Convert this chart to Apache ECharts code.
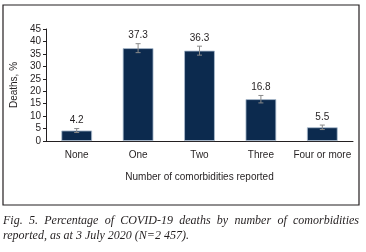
<!DOCTYPE html>
<html>
<head>
<meta charset="utf-8">
<script src="https://cdn.jsdelivr.net/npm/echarts@6/dist/echarts.min.js"></script>
<style>
  html, body { margin: 0; padding: 0; background: #fff; }
  #chart { width: 366px; height: 252px; }
</style>
</head>
<body>
<div id="chart"></div>
<script>
  // values
  const categories = ['None', 'One', 'Two', 'Three', 'Four or more'];
  const deaths = [4.2, 37.3, 36.3, 16.8, 5.5];
  const errLow = [3.4, 35.5, 34.5, 15.3, 4.6];
  const errHigh = [5.0, 39.1, 38.1, 18.3, 6.4];
  const yTicks = [0, 5, 10, 15, 20, 25, 30, 35, 40, 45];
  const captionLine1 = 'Fig. 5. Percentage of COVID-19 deaths by number of comorbidities';
  const captionLine2 = 'reported, as at 3 July 2020 (N=2 457).';

  const textColor = '#231f20';
  const font = 'Liberation Sans';
  const captionFont = 'italic 12px "Liberation Serif"';

  const chart = echarts.init(document.getElementById('chart'), null, {renderer: 'canvas'});

  function renderError(params, api) {
    const lo = api.coord([api.value(0), api.value(1)]);
    const hi = api.coord([api.value(0), api.value(2)]);
    const half = 2.5;
    const style = {stroke: '#8a8a8a', lineWidth: 1};
    return {
      type: 'group',
      children: [
        {type: 'line', shape: {x1: lo[0], y1: lo[1], x2: lo[0], y2: hi[1]}, style: style},
        {type: 'line', shape: {x1: lo[0] - half, y1: lo[1], x2: lo[0] + half, y2: lo[1]}, style: style},
        {type: 'line', shape: {x1: lo[0] - half, y1: hi[1], x2: lo[0] + half, y2: hi[1]}, style: style},
        {
          type: 'text',
          x: lo[0],
          y: hi[1] - 3,
          style: {
            text: String(api.value(3)),
            fill: textColor,
            font: '10px ' + font,
            align: 'center',
            verticalAlign: 'bottom'
          }
        }
      ]
    };
  }

  // justified first caption line, like the printed figure
  function justifiedLine(text, left, width, top) {
    const ctx = document.createElement('canvas').getContext('2d');
    ctx.font = captionFont;
    const words = text.split(' ');
    const widths = words.map(w => ctx.measureText(w).width);
    const total = widths.reduce((s, w) => s + w, 0);
    const gap = (width - total) / (words.length - 1);
    let x = left;
    return words.map((w, i) => {
      const el = {
        type: 'text',
        x: x,
        y: top,
        style: {text: w, font: captionFont, fill: textColor, verticalAlign: 'middle'}
      };
      x += widths[i] + gap;
      return el;
    });
  }

  const option = {
    animation: false,
    grid: {left: 46, right: 13, top: 29, bottom: 111},
    xAxis: {
      type: 'category',
      data: categories,
      name: 'Number of comorbidities reported',
      nameLocation: 'middle',
      nameGap: 31,
      nameTextStyle: {color: textColor, fontFamily: font, fontSize: 10},
      axisLine: {lineStyle: {color: textColor, width: 1}},
      axisTick: {show: false},
      axisLabel: {color: textColor, fontFamily: font, fontSize: 10, margin: 9, interval: 0}
    },
    yAxis: {
      type: 'value',
      min: 0,
      max: yTicks[yTicks.length - 1],
      interval: 5,
      name: 'Deaths, %',
      nameLocation: 'middle',
      nameGap: 25,
      nameTextStyle: {color: textColor, fontFamily: font, fontSize: 10},
      splitLine: {show: false},
      axisLine: {show: true, lineStyle: {color: textColor, width: 1}},
      axisTick: {show: true, length: 3, lineStyle: {color: textColor}},
      axisLabel: {color: textColor, fontFamily: font, fontSize: 10, margin: 5}
    },
    series: [
      {
        type: 'bar',
        data: deaths,
        barWidth: '50%',
        itemStyle: {color: '#0c2a4e', borderColor: '#aebfd1', borderWidth: 0.8}
      },
      {
        type: 'custom',
        renderItem: renderError,
        data: categories.map((c, i) => [i, errLow[i], errHigh[i], deaths[i]]),
        encode: {x: 0, y: [1, 2]},
        z: 3
      }
    ],
    graphic: [
      {
        type: 'rect',
        shape: {x: 3, y: 5, width: 356, height: 200},
        style: {fill: 'none', stroke: textColor, lineWidth: 1.2},
        silent: true
      },
      ...justifiedLine(captionLine1, 3, 356, 221),
      {
        type: 'text',
        x: 3,
        y: 236,
        style: {text: captionLine2, font: captionFont, fill: textColor, verticalAlign: 'middle'}
      }
    ]
  };

  chart.setOption(option);
</script>
</body>
</html>
